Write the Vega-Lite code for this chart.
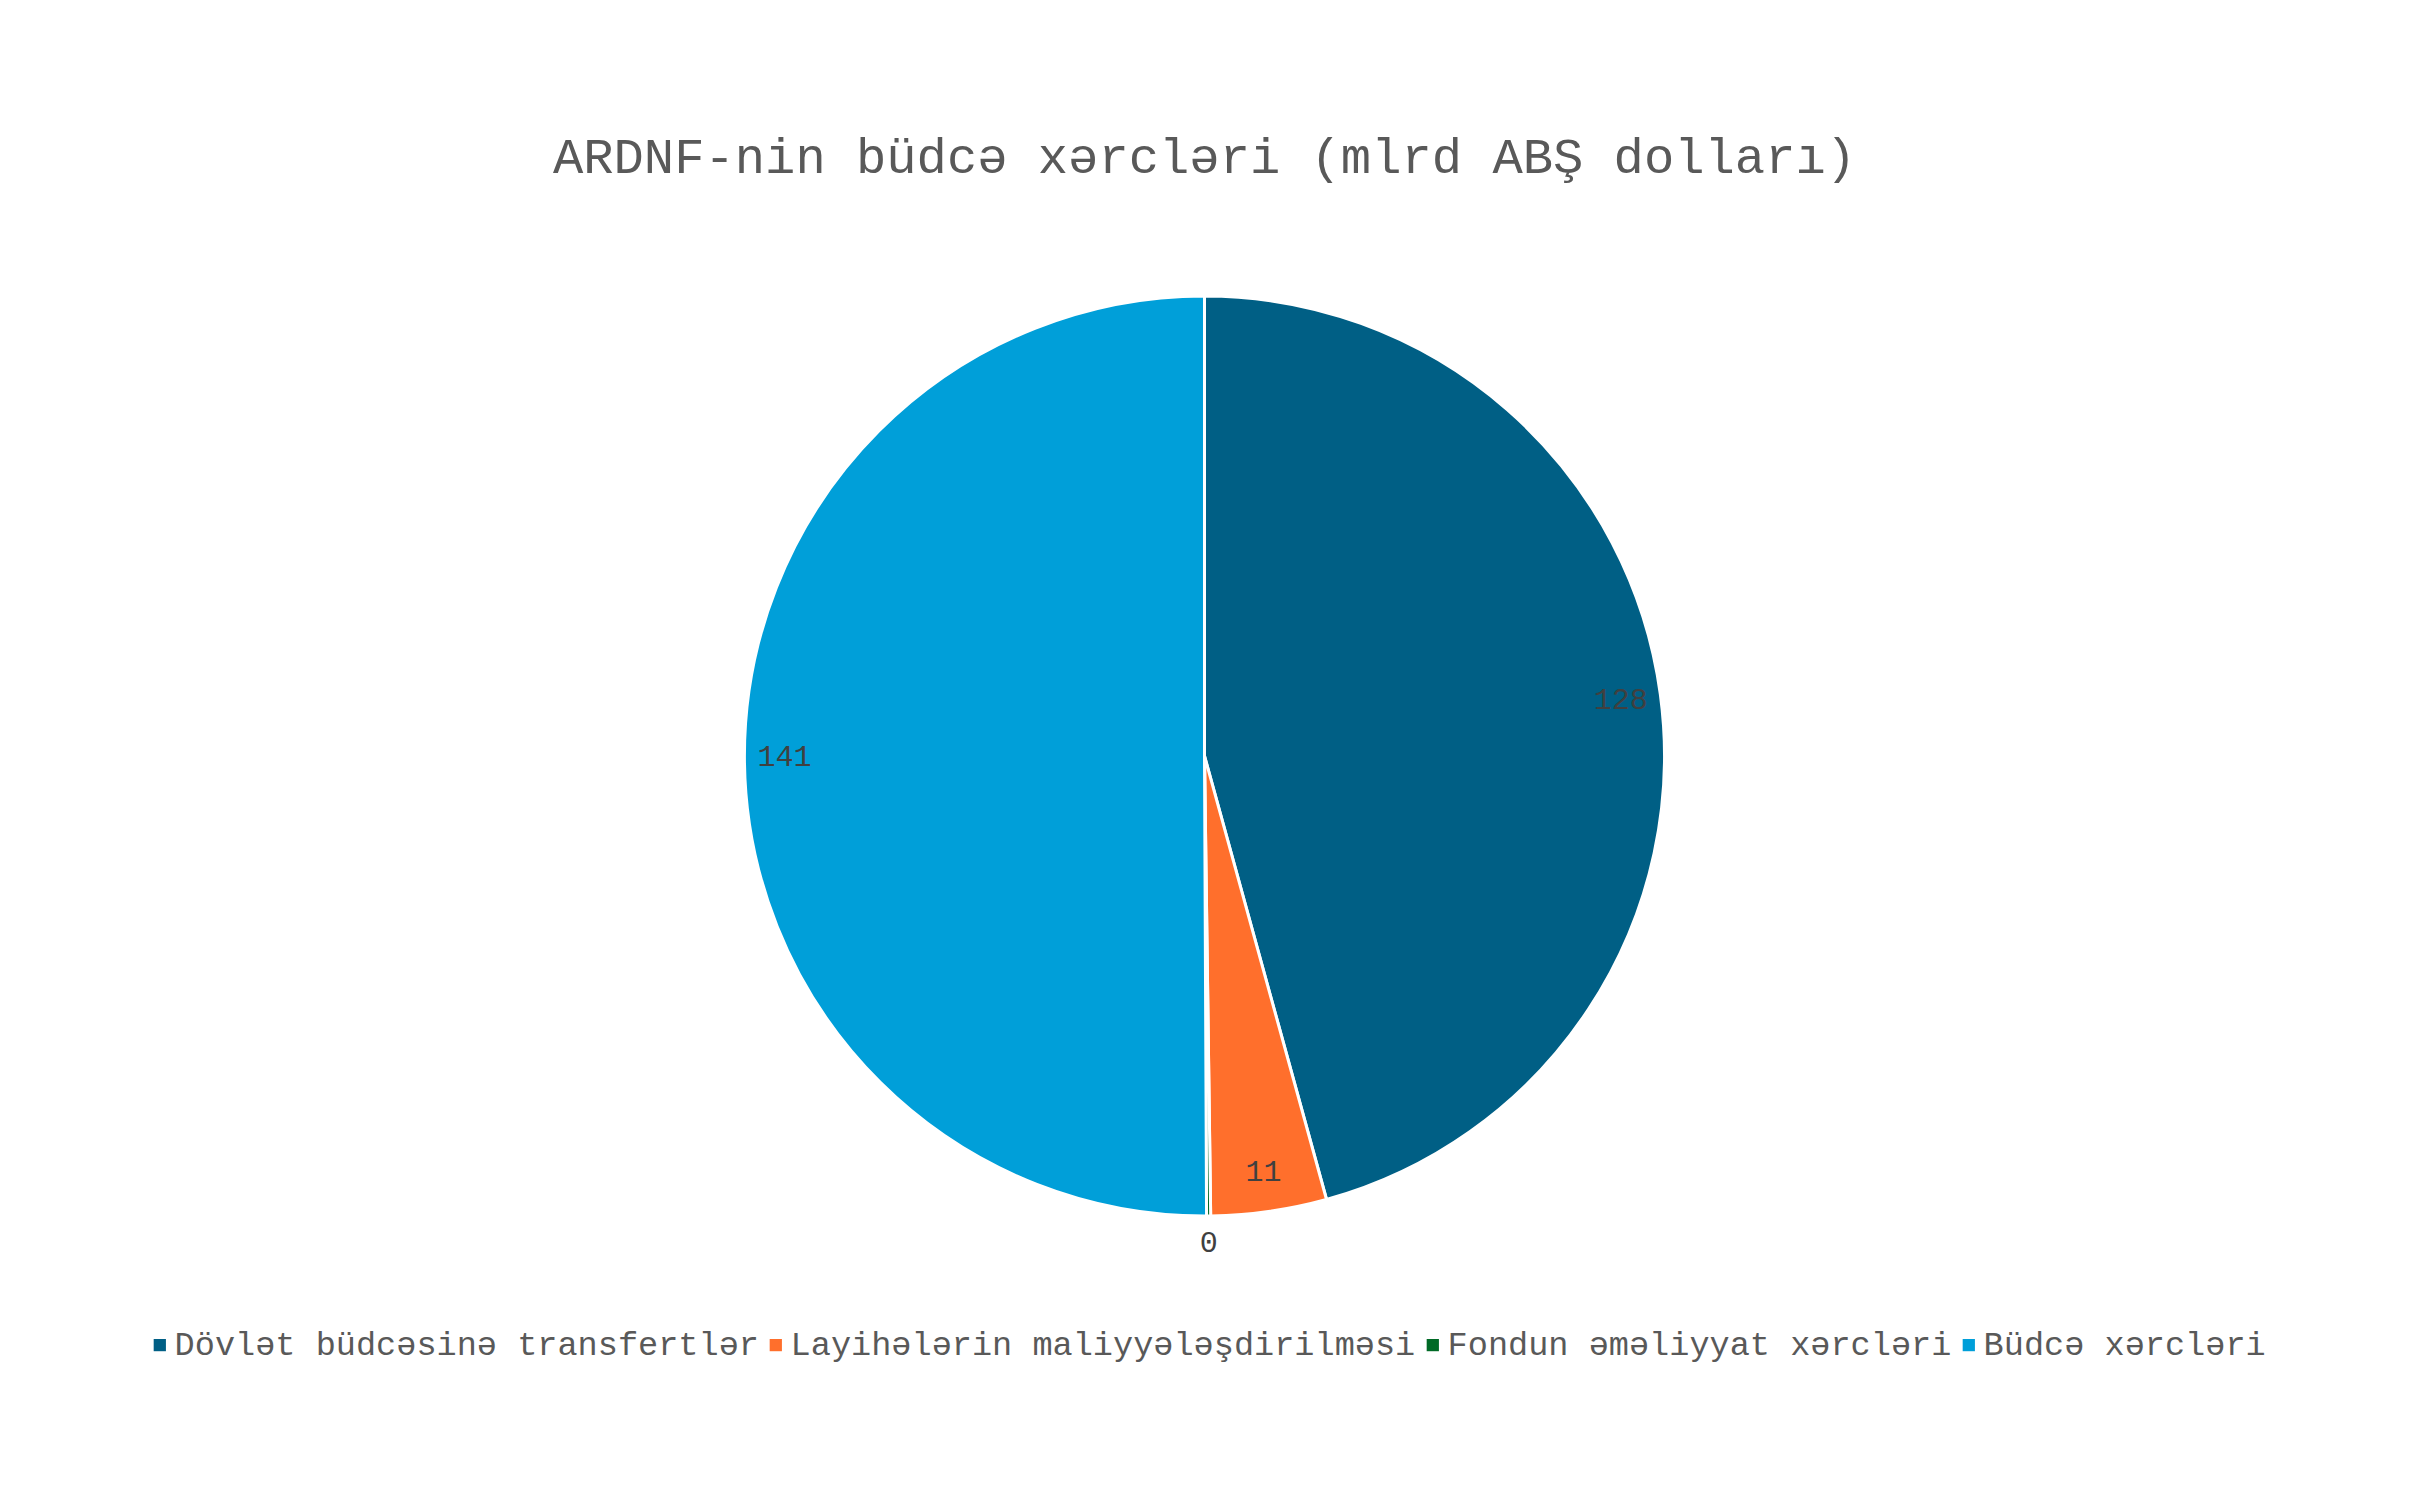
{
  "$schema": "https://vega.github.io/schema/vega-lite/v6.json",
  "width": 2409,
  "height": 1492,
  "autosize": {"type": "none"},
  "padding": {"top": 10, "left": 0, "right": 0, "bottom": 0},
  "background": "white",
  "title": {
    "text": "ARDNF-nin büdcə xərcləri (mlrd ABŞ dolları)",
    "font": "Liberation Mono",
    "fontSize": 50.5,
    "fontWeight": "normal",
    "color": "#595959",
    "anchor": "middle",
    "frame": "group",
    "offset": -173
  },
  "data": {
    "values": [
      {"kat": "Dövlət büdcəsinə transfertlər", "deyer": 128.4, "sira": 1},
      {"kat": "Layihələrin maliyyələşdirilməsi", "deyer": 11.4, "sira": 2},
      {"kat": "Fondun əməliyyat xərcləri", "deyer": 0.4, "sira": 3},
      {"kat": "Büdcə xərcləri", "deyer": 140.6, "sira": 4}
    ]
  },
  "encoding": {
    "theta": {"field": "deyer", "type": "quantitative", "stack": true},
    "order": {"field": "sira", "type": "quantitative"}
  },
  "layer": [
    {
      "mark": {"type": "arc", "outerRadius": 460, "stroke": "white", "strokeWidth": 3},
      "encoding": {
        "color": {
          "field": "kat",
          "type": "nominal",
          "scale": {
            "domain": ["Dövlət büdcəsinə transfertlər", "Layihələrin maliyyələşdirilməsi", "Fondun əməliyyat xərcləri", "Büdcə xərcləri"],
            "range": ["#005F85", "#FF6F2C", "#006A26", "#009FD9"]
          },
          "legend": {
            "title": null,
            "orient": "none",
            "direction": "horizontal",
            "legendX": 143,
            "legendY": 1318,
            "labelFont": "Liberation Mono",
            "labelFontSize": 33.6,
            "labelColor": "#595959",
            "labelLimit": 1000,
            "symbolType": "square",
            "symbolSize": 150,
            "symbolStrokeWidth": 0,
            "labelOffset": -2,
            "columnPadding": -4
          }
        }
      }
    },
    {
      "mark": {"type": "text", "radius": 420, "font": "Liberation Mono", "fontSize": 30, "color": "#404040"},
      "encoding": {
        "text": {"condition": {"test": "datum.deyer >= 1", "field": "deyer", "type": "quantitative", "format": ".0f"}, "value": ""}
      }
    },
    {
      "mark": {"type": "text", "radius": 487, "font": "Liberation Mono", "fontSize": 30, "color": "#404040"},
      "encoding": {
        "text": {"condition": {"test": "datum.deyer < 1", "field": "deyer", "type": "quantitative", "format": ".0f"}, "value": ""}
      }
    }
  ]
}
